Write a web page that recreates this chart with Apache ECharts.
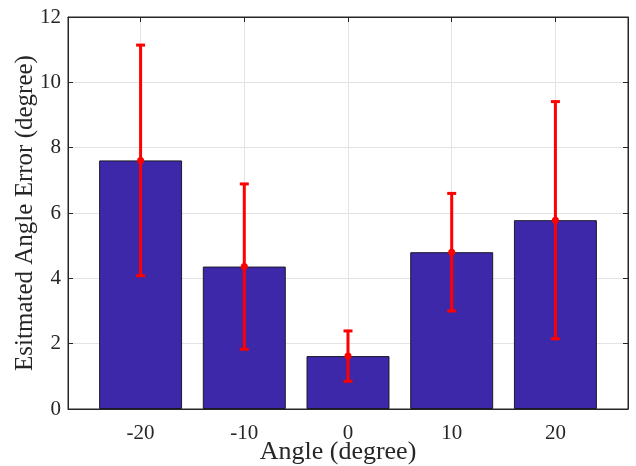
<!DOCTYPE html>
<html>
<head>
<meta charset="utf-8">
<script src="https://cdn.jsdelivr.net/npm/echarts@6/dist/echarts.min.js"></script>
<style>html,body{margin:0;padding:0;background:#fff}#c{width:636px;height:466px}</style>
</head>
<body>
<div id="c"></div>
<script>
const angles = [-20, -10, 0, 10, 20];
const meanError = [7.61, 4.36, 1.62, 4.80, 5.78];
const stdError = [3.53, 2.53, 0.77, 1.80, 3.63];
const xTicks = [-20, -10, 0, 10, 20];
const xLabel = 'Angle (degree)';
const yLabel = 'Esitmated Angle Error (degree)';

const FONT = '"Liberation Serif", "Times New Roman", serif';
const AX = '#262626';
const GRIDC = '#e3e3e3';

const barData = angles.map((a, i) => [a, meanError[i]]);
const errData = angles.map((a, i) => [a, meanError[i] - stdError[i], meanError[i] + stdError[i], meanError[i]]);

const chart = echarts.init(document.getElementById('c'), null, {renderer: 'canvas'});
chart.setOption({
  animation: false,
  backgroundColor: '#fff',
  grid: {left: 68, right: 8, top: 17, bottom: 57, containLabel: false, outerBoundsMode: 'none',
         show: true, borderColor: AX, borderWidth: 1, backgroundColor: 'transparent'},
  xAxis: [{
    type: 'value', min: -27, max: 27,
    axisLine: {show: true, onZero: false, lineStyle: {color: AX, width: 1}},
    axisTick: {show: true, inside: true, length: 5, customValues: xTicks, lineStyle: {color: AX}},
    axisLabel: {customValues: xTicks, color: AX, fontFamily: FONT, fontSize: 21, margin: 14},
    splitLine: {show: true, lineStyle: {color: GRIDC, width: 1}},
    name: xLabel, nameLocation: 'middle', nameGap: 30, nameMoveOverlap: false,
    nameTextStyle: {color: AX, fontFamily: FONT, fontSize: 26, padding: [0, 20, 0, 0]}
  }, {
    type: 'value', min: -27, max: 27, position: 'top',
    axisLine: {show: true, onZero: false, lineStyle: {color: AX}},
    axisTick: {show: true, inside: true, length: 5, customValues: xTicks, lineStyle: {color: AX}},
    axisLabel: {show: false},
    splitLine: {show: false}
  }],
  yAxis: [{
    type: 'value', min: 0, max: 12, interval: 2,
    axisLine: {show: true, onZero: false, lineStyle: {color: AX, width: 1}},
    axisTick: {show: true, inside: true, length: 5, lineStyle: {color: AX}},
    axisLabel: {color: AX, fontFamily: FONT, fontSize: 21, margin: 7},
    splitLine: {show: true, lineStyle: {color: GRIDC, width: 1}},
    name: yLabel, nameLocation: 'middle', nameGap: 30, nameMoveOverlap: false,
    nameTextStyle: {color: AX, fontFamily: FONT, fontSize: 25}
  }, {
    type: 'value', min: 0, max: 12, interval: 2, position: 'right',
    axisLine: {show: true, onZero: false, lineStyle: {color: AX}},
    axisTick: {show: true, inside: true, length: 5, lineStyle: {color: AX}},
    axisLabel: {show: false},
    splitLine: {show: false}
  }],
  series: [{
    type: 'bar',
    data: barData,
    barWidth: '80%',
    itemStyle: {color: '#3c28a8', borderColor: '#1a1a2a', borderWidth: 1}
  }, {
    type: 'custom',
    data: errData,
    z: 10,
    renderItem: function (params, api) {
      const x = api.value(0);
      const lo = api.coord([x, api.value(1)]);
      const hi = api.coord([x, api.value(2)]);
      const m = api.coord([x, api.value(3)]);
      const cw = 4.5;
      const st = {stroke: '#ff0000', lineWidth: 3, fill: null};
      return {
        type: 'group',
        children: [
          {type: 'line', shape: {x1: lo[0], y1: lo[1], x2: hi[0], y2: hi[1]}, style: st},
          {type: 'line', shape: {x1: lo[0] - cw, y1: lo[1], x2: lo[0] + cw, y2: lo[1]}, style: st},
          {type: 'line', shape: {x1: hi[0] - cw, y1: hi[1], x2: hi[0] + cw, y2: hi[1]}, style: st},
          {type: 'circle', shape: {cx: m[0], cy: m[1], r: 3.5}, style: {fill: '#ff0000'}}
        ]
      };
    }
  }]
});
</script>
</body>
</html>
